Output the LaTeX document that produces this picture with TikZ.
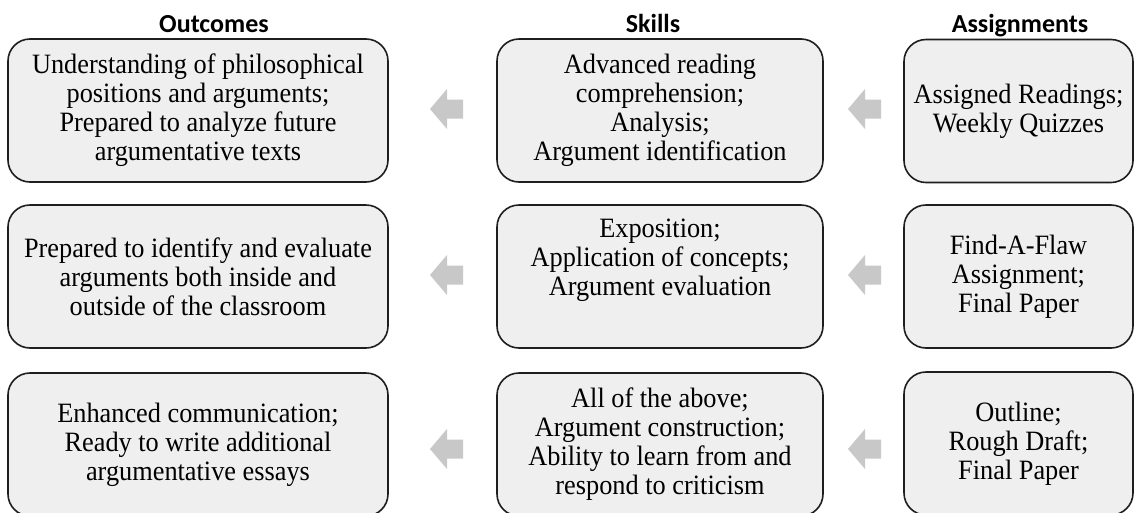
\documentclass[tikz,border=0pt]{standalone}
\usepackage{fontspec}
\setmainfont{Liberation Serif}[FakeStretch=0.94]
\newfontfamily\headfont{Carlito}
\definecolor{boxfill}{HTML}{EFEFEF}
\definecolor{boxline}{HTML}{1E1E1E}
\definecolor{arrowgray}{HTML}{C8C8C8}
\begin{document}
\begin{tikzpicture}[x=1pt,y=-1pt,
  box/.style={draw=boxline, line width=1.6pt, fill=boxfill, rounded corners=22pt,
    align=center, inner sep=0pt, minimum height=143pt,
    font=\fontsize{28}{29}\selectfont},
  obox/.style={box, minimum width=380pt},
  sbox/.style={box, minimum width=326pt},
  abox/.style={box, minimum width=229pt},
  head/.style={font=\headfont\bfseries\fontsize{26}{30}\selectfont, anchor=base, inner sep=0pt},
  larrow/.pic={\fill[arrowgray] (-16.5,0) -- (0.5,-20) -- (0.5,-9.5) -- (16.5,-9.5)
     -- (16.5,9.5) -- (0.5,9.5) -- (0.5,20) -- cycle;}
]
\useasboundingbox (0,0) rectangle (1135,512);
\clip (0,0) rectangle (1135,512);
\fill[white] (0,0) rectangle (1135,512);

% headers
\node[head] (h1) at (214,32) {Outcomes};
\node[head] (h2) at (653,32) {Skills};
\node[head] (h3) at (1020,32) {Assignments};

% row 1
\node[obox] (o1) at (198,110.5) {Understanding of philosophical\\positions and arguments;\\Prepared to analyze future\\argumentative texts};
\node[sbox] (s1) at (660,110.5) {Advanced reading\\comprehension;\\Analysis;\\Argument identification};
\node[abox] (a1) at (1018.5,111) {Assigned Readings;\\Weekly Quizzes};

% row 2
\node[obox] (o2) at (198,276.5) {Prepared to identify and evaluate\\arguments both inside and\\outside of the classroom};
\node[sbox] (s2) at (660,276.5) {Exposition;\\Application of concepts;\\Argument evaluation\\\strut};
\node[abox] (a2) at (1018.5,276.5) {Find-A-Flaw\\Assignment;\\Final Paper};

% row 3
\node[obox] (o3) at (198,444.5) {Enhanced communication;\\Ready to write additional\\argumentative essays};
\node[sbox] (s3) at (660,444.5) {All of the above;\\Argument construction;\\Ability to learn from and\\respond to criticism};
\node[abox] (a3) at (1018.5,443.5) {Outline;\\Rough Draft;\\Final Paper};

% block arrows
\pic at (446.5,109) {larrow};
\pic at (864.5,109) {larrow};
\pic at (446.5,275) {larrow};
\pic at (864.5,275) {larrow};
\pic at (446.5,449) {larrow};
\pic at (864.5,449) {larrow};
\end{tikzpicture}
\end{document}
